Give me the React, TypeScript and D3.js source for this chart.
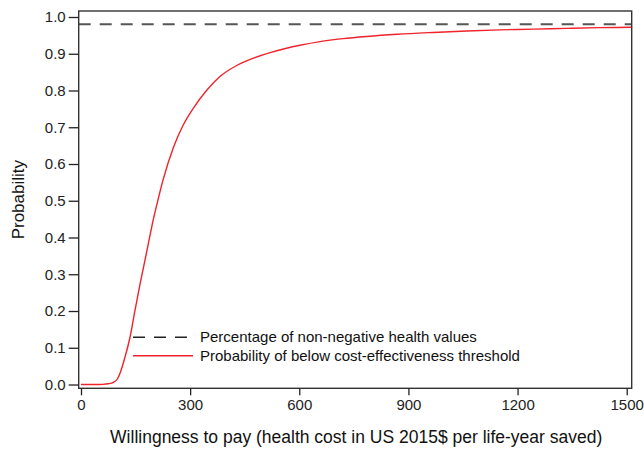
import { useEffect, useRef } from "react";
import * as d3 from "d3";

const width = 644;
const height = 450;
const plot = { left: 78.7, right: 631.7, top: 11, bottom: 388.3 };

// willingness to pay (x) and probability (y)
const wtp = [
  0, 40, 60, 75, 89, 100, 107, 121, 135, 148, 162, 181, 199, 213, 226, 254,
  281, 309, 345, 382, 428, 474, 520, 565, 602, 657, 720, 785, 870, 968, 1060,
  1152, 1245, 1335, 1425, 1515,
];
const prob = [
  0, 0, 0.0005, 0.002, 0.006, 0.015, 0.03, 0.075, 0.13, 0.2, 0.272, 0.363,
  0.45, 0.508, 0.558, 0.645, 0.706, 0.752, 0.8, 0.838, 0.868, 0.888, 0.903,
  0.915, 0.923, 0.933, 0.941, 0.947, 0.953, 0.958, 0.962, 0.965, 0.967, 0.969,
  0.971, 0.972,
];
const nonNegShare = 0.98;

const xTicks = [0, 300, 600, 900, 1200, 1500];
const yTicks = [0, 0.1, 0.2, 0.3, 0.4, 0.5, 0.6, 0.7, 0.8, 0.9, 1.0];

const legendItems = [
  { label: "Percentage of non-negative health values", dashed: true },
  { label: "Probability of below cost-effectiveness threshold", dashed: false },
];

const font = "'Liberation Sans', Arial, sans-serif";
const red = "#f0222a";
const gray = "#555555";

const xScale = d3.scaleLinear().domain([-6.3, 1513.7]).range([plot.left, plot.right]);
const yScale = d3.scaleLinear().domain([-0.0103, 1.0163]).range([plot.bottom, plot.top]);

const App = () => {
  const xAxisRef = useRef<SVGGElement>(null);
  const yAxisRef = useRef<SVGGElement>(null);

  useEffect(() => {
    if (xAxisRef.current) {
      const g = d3.select(xAxisRef.current);
      g.call(d3.axisBottom(xScale).tickValues(xTicks).tickSize(7).tickPadding(4).tickFormat(d3.format("d")));
      g.select(".domain").remove();
      g.selectAll("line").attr("stroke", "#222").attr("stroke-width", 1.3);
      g.selectAll("text").attr("font-size", 15).attr("font-family", font).attr("fill", "#222");
    }
    if (yAxisRef.current) {
      const g = d3.select(yAxisRef.current);
      g.call(d3.axisLeft(yScale).tickValues(yTicks).tickSize(10).tickPadding(3).tickFormat(d3.format(".1f")));
      g.select(".domain").remove();
      g.selectAll("line").attr("stroke", "#222").attr("stroke-width", 1.3);
      g.selectAll("text").attr("font-size", 15).attr("font-family", font).attr("fill", "#222");
    }
  }, []);

  const line = d3
    .line<number>()
    .x((d) => xScale(d))
    .y((_, i) => yScale(prob[i]))
    .curve(d3.curveMonotoneX);

  const legendX = 133;
  const legendY = [337.3, 355.7];

  return (
    <svg width={width} height={height} style={{ position: "absolute", left: 0, top: 0 }}>
      <rect x={0} y={0} width={width} height={height} fill="#fff" />
      <line
        x1={plot.left}
        x2={plot.right}
        y1={yScale(nonNegShare)}
        y2={yScale(nonNegShare)}
        stroke={gray}
        strokeWidth={2}
        strokeDasharray="12,9"
      />
      <path d={line(wtp) ?? undefined} fill="none" stroke={red} strokeWidth={1.4} />

      {legendItems.map((item, i) => (
        <g key={item.label}>
          <line
            x1={legendX}
            x2={item.dashed ? legendX + 54 : legendX + 60}
            y1={legendY[i]}
            y2={legendY[i]}
            stroke={item.dashed ? "#222" : red}
            strokeWidth={item.dashed ? 1.6 : 1.4}
            strokeDasharray={item.dashed ? "12,9" : undefined}
          />
          <text x={200} y={legendY[i] + 5} fontSize={15} fontFamily={font} fill="#111">
            {item.label}
          </text>
        </g>
      ))}

      <rect
        x={plot.left}
        y={plot.top}
        width={plot.right - plot.left}
        height={plot.bottom - plot.top}
        fill="none"
        stroke="#333"
        strokeWidth={1.4}
      />
      <g ref={xAxisRef} transform={`translate(0, ${plot.bottom})`} />
      <g ref={yAxisRef} transform={`translate(${plot.left}, 0)`} />

      <text
        x={(plot.left + plot.right) / 2 + 1}
        y={443}
        textAnchor="middle"
        fontSize={17.5}
        fontFamily={font}
        fill="#111"
      >
        Willingness to pay (health cost in US 2015$ per life-year saved)
      </text>
      <text
        transform={`translate(24, ${(plot.top + plot.bottom) / 2}) rotate(-90)`}
        textAnchor="middle"
        fontSize={17}
        fontFamily={font}
        fill="#111"
      >
        Probability
      </text>
    </svg>
  );
};

export default App;
